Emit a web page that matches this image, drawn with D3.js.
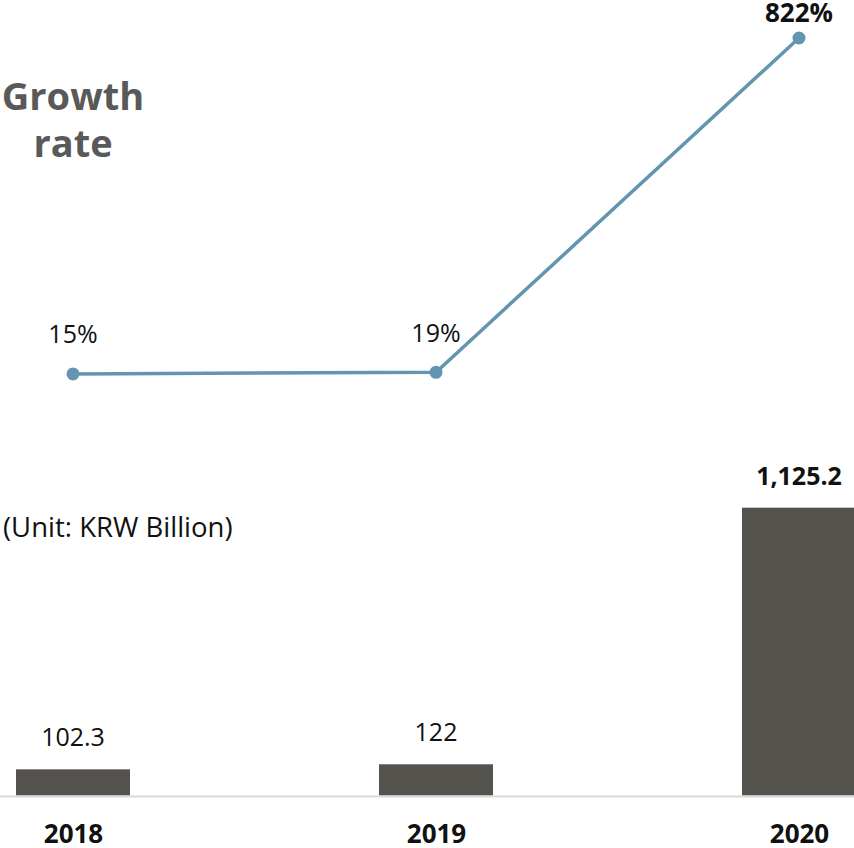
<!DOCTYPE html>
<html>
<head>
<meta charset="utf-8">
<script src="https://cdn.jsdelivr.net/npm/d3@7"></script>
<style>
  html, body { margin: 0; padding: 0; background: #fff; }
  svg { display: block; font-family: "Open Sans", "Noto Sans", sans-serif; }
</style>
</head>
<body>
<svg id="chart" width="854" height="848"></svg>
<script>
// Yearly figures
const years = ["2018", "2019", "2020"];
const revenue = [102.3, 122, 1125.2];          // KRW billion
const growthRate = [15, 19, 822];               // percent
const revenueLabels = ["102.3", "122", "1,125.2"];
const growthLabels = ["15%", "19%", "822%"];
const boldIndex = [2];                          // highlighted year

const svg = d3.select("#chart");
const W = 854;

const x = d3.scalePoint().domain(years).range([73, 799]);
const barW = 114;

// Growth-rate line (upper panel)
const yLine = d3.scaleLinear().domain([0, 822]).range([380.2, 38]);

// Revenue bars (lower panel)
const baseY = 795.5;
const yBar = d3.scaleLinear().domain([0, 1125.2]).range([baseY, 507.7]);

// Panel title
const title = svg.append("text")
  .attr("text-anchor", "middle")
  .attr("font-weight", 700)
  .attr("font-size", 38)
  .attr("fill", "#595959");
title.append("tspan").attr("x", 73).attr("y", 110).text("Growth");
title.append("tspan").attr("x", 73).attr("y", 157).text("rate");

const linePts = years.map((yr, i) => ({ yr, v: growthRate[i], label: growthLabels[i], i }));

svg.append("path")
  .datum(linePts)
  .attr("fill", "none")
  .attr("stroke", "#6394b0")
  .attr("stroke-width", 3.5)
  .attr("d", d3.line().x(d => x(d.yr)).y(d => yLine(d.v)));

svg.selectAll("circle.pt")
  .data(linePts)
  .join("circle")
  .attr("class", "pt")
  .attr("cx", d => x(d.yr))
  .attr("cy", d => yLine(d.v))
  .attr("r", 6.5)
  .attr("fill", "#6394b0");

svg.selectAll("text.rate")
  .data(linePts)
  .join("text")
  .attr("class", "rate")
  .attr("x", d => x(d.yr))
  .attr("y", d => Math.max(yLine(d.v) - 30.5, 22))
  .attr("text-anchor", "middle")
  .attr("font-size", d => boldIndex.includes(d.i) ? 26 : 25)
  .attr("font-weight", d => boldIndex.includes(d.i) ? 700 : 400)
  .attr("fill", "#111")
  .text(d => d.label);

// Unit note
svg.append("text")
  .attr("x", 3)
  .attr("y", 537)
  .attr("font-size", 27.5)
  .attr("fill", "#111")
  .text("(Unit: KRW Billion)");

const barData = years.map((yr, i) => ({ yr, v: revenue[i], label: revenueLabels[i], i }));

svg.selectAll("rect.bar")
  .data(barData)
  .join("rect")
  .attr("class", "bar")
  .attr("x", d => x(d.yr) - barW / 2)
  .attr("y", d => yBar(d.v))
  .attr("width", barW)
  .attr("height", d => baseY - yBar(d.v))
  .attr("fill", "#53524c");

// Baseline
svg.append("line")
  .attr("x1", 0).attr("x2", W)
  .attr("y1", baseY + 1).attr("y2", baseY + 1)
  .attr("stroke", "#d9d9d9")
  .attr("stroke-width", 2);

svg.selectAll("text.val")
  .data(barData)
  .join("text")
  .attr("class", "val")
  .attr("x", d => x(d.yr))
  .attr("y", d => yBar(d.v) - 23)
  .attr("text-anchor", "middle")
  .attr("font-size", 25)
  .attr("font-weight", d => boldIndex.includes(d.i) ? 700 : 400)
  .attr("fill", "#111")
  .text(d => d.label);

// Year axis
const xAxis = svg.append("g")
  .attr("transform", `translate(0,${baseY})`)
  .call(d3.axisBottom(x).tickSize(0).tickPadding(0));
xAxis.select(".domain").remove();
xAxis.selectAll("text")
  .attr("y", 47.5)
  .attr("dy", null)
  .attr("font-family", "\"Open Sans\", \"Noto Sans\", sans-serif")
  .attr("font-size", 26)
  .attr("font-weight", 700)
  .attr("fill", "#111");
</script>
</body>
</html>
